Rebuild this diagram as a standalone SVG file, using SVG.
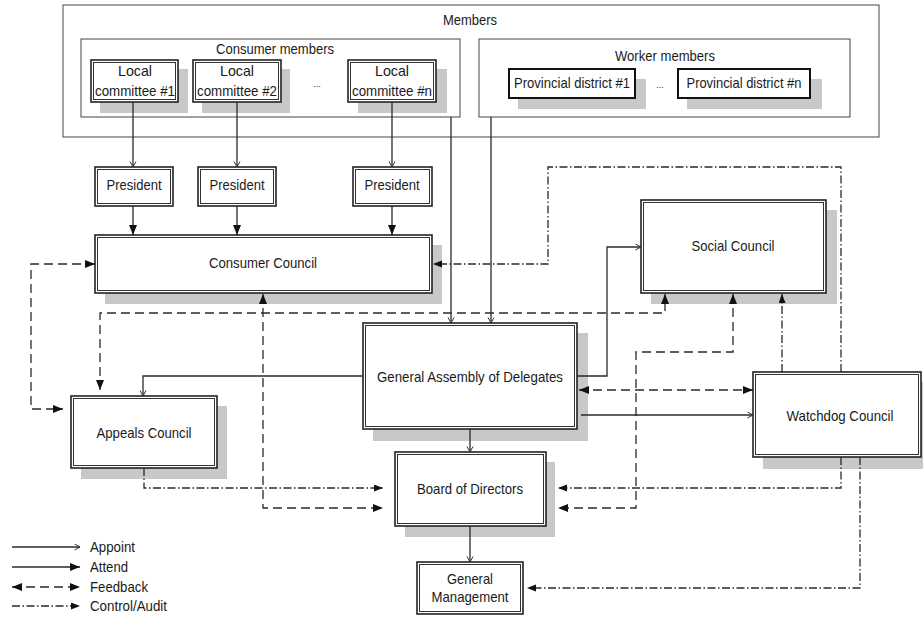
<svg xmlns="http://www.w3.org/2000/svg" width="923" height="617" viewBox="0 0 923 617">
<style>
text{font-family:"Liberation Sans",Arial,sans-serif;font-size:15px;fill:#1a1a1a}
.c{text-anchor:middle}
.sh{fill:#c8c8c8}
.grp{fill:#fff;stroke:#444;stroke-width:1}
.o{fill:#fff;stroke:#222;stroke-width:1.6}
.i{fill:none;stroke:#333;stroke-width:1}
.pd{fill:#fff;stroke:#111;stroke-width:2}
.ln{fill:none;stroke:#2a2a2a;stroke-width:1.3}
.ap{marker-end:url(#open)}
.at{marker-end:url(#fill)}
.fb{stroke-dasharray:9,5;marker-start:url(#fill);marker-end:url(#fill)}
.ca{stroke-dasharray:8,2.5,1.5,2.5;marker-end:url(#fillS)}
</style>
<defs>
<marker id="open" markerUnits="userSpaceOnUse" markerWidth="8" markerHeight="8" refX="6" refY="3.5" orient="auto-start-reverse"><path d="M0.5,0.5 L6,3.5 L0.5,6.5" fill="none" stroke="#333" stroke-width="1"/></marker>
<marker id="fill" markerUnits="userSpaceOnUse" markerWidth="11" markerHeight="9" refX="10" refY="4" orient="auto-start-reverse"><path d="M0,0 L10,4 L0,8 z" fill="#111"/></marker>
<marker id="fillS" markerUnits="userSpaceOnUse" markerWidth="10" markerHeight="8" refX="9" refY="3.5" orient="auto-start-reverse"><path d="M0,0 L9,3.5 L0,7 z" fill="#111"/></marker>
</defs>
<rect width="923" height="617" fill="#fff"/>

<g id="members">
<rect class="grp" x="63" y="5" width="816" height="132"/>
<text class="c" x="470" y="25" textLength="54" lengthAdjust="spacingAndGlyphs">Members</text>
</g>
<g id="consumer-members">
<rect class="grp" x="81" y="39" width="379" height="78"/>
<text class="c" x="275" y="54" textLength="118" lengthAdjust="spacingAndGlyphs">Consumer members</text>
<text class="c" x="317" y="87" style="font-size:9px">...</text>
</g>
<g id="worker-members">
<rect class="grp" x="479" y="39" width="371" height="78"/>
<text class="c" x="665" y="61" textLength="100" lengthAdjust="spacingAndGlyphs">Worker members</text>
<text class="c" x="660" y="88" style="font-size:9px">...</text>
</g>

<g id="local1">
<rect class="sh" x="100" y="69" width="88" height="44"/>
<rect class="o" x="91" y="60" width="87" height="42"/>
<rect class="i" x="93.5" y="62.5" width="82" height="37"/>
<text class="c" x="135" y="76" textLength="34" lengthAdjust="spacingAndGlyphs">Local</text>
<text class="c" x="135" y="96" textLength="80" lengthAdjust="spacingAndGlyphs">committee #1</text>
</g>
<g id="local2">
<rect class="sh" x="202" y="69" width="88" height="44"/>
<rect class="o" x="193" y="60" width="88" height="42"/>
<rect class="i" x="195.5" y="62.5" width="83" height="37"/>
<text class="c" x="237" y="76" textLength="34" lengthAdjust="spacingAndGlyphs">Local</text>
<text class="c" x="237" y="96" textLength="80" lengthAdjust="spacingAndGlyphs">committee #2</text>
</g>
<g id="localn">
<rect class="sh" x="358" y="69" width="89" height="44"/>
<rect class="o" x="348" y="60" width="88" height="42"/>
<rect class="i" x="350.5" y="62.5" width="83" height="37"/>
<text class="c" x="392" y="76" textLength="34" lengthAdjust="spacingAndGlyphs">Local</text>
<text class="c" x="392" y="96" textLength="80" lengthAdjust="spacingAndGlyphs">committee #n</text>
</g>
<g id="prov1">
<rect class="sh" x="518" y="79" width="128" height="30"/>
<rect class="pd" x="509" y="69" width="126" height="29"/>
<text class="c" x="572" y="88" textLength="116" lengthAdjust="spacingAndGlyphs">Provincial district #1</text>
</g>
<g id="provn">
<rect class="sh" x="687" y="79" width="135" height="30"/>
<rect class="pd" x="678" y="69" width="132" height="29"/>
<text class="c" x="744" y="88" textLength="115" lengthAdjust="spacingAndGlyphs">Provincial district #n</text>
</g>

<g id="president1">
<rect class="o" x="95" y="167" width="78" height="39"/>
<rect class="i" x="97.5" y="169.5" width="73" height="34"/>
<text class="c" x="134" y="190" textLength="55" lengthAdjust="spacingAndGlyphs">President</text>
</g>
<g id="president2">
<rect class="o" x="198" y="167" width="78" height="39"/>
<rect class="i" x="200.5" y="169.5" width="73" height="34"/>
<text class="c" x="237" y="190" textLength="55" lengthAdjust="spacingAndGlyphs">President</text>
</g>
<g id="president3">
<rect class="o" x="353" y="167" width="79" height="39"/>
<rect class="i" x="355.5" y="169.5" width="74" height="34"/>
<text class="c" x="392" y="190" textLength="55" lengthAdjust="spacingAndGlyphs">President</text>
</g>

<g id="consumer-council">
<rect class="sh" x="105" y="245" width="337" height="59"/>
<rect class="o" x="95" y="235" width="337" height="58"/>
<rect class="i" x="97.5" y="237.5" width="332" height="53"/>
<text class="c" x="263" y="268" textLength="108" lengthAdjust="spacingAndGlyphs">Consumer Council</text>
</g>
<g id="social-council">
<rect class="sh" x="651" y="210" width="186" height="94"/>
<rect class="o" x="641" y="200" width="185" height="93"/>
<rect class="i" x="643.5" y="202.5" width="180" height="88"/>
<text class="c" x="733" y="251" textLength="83" lengthAdjust="spacingAndGlyphs">Social Council</text>
</g>
<g id="general-assembly">
<rect class="sh" x="373" y="333" width="215" height="108"/>
<rect class="o" x="363" y="323" width="214" height="106"/>
<rect class="i" x="365.5" y="325.5" width="209" height="101"/>
<text class="c" x="470" y="382" textLength="186" lengthAdjust="spacingAndGlyphs">General Assembly of Delegates</text>
</g>
<g id="appeals-council">
<rect class="sh" x="81" y="406" width="146" height="73"/>
<rect class="o" x="71" y="396" width="146" height="72"/>
<rect class="i" x="73.5" y="398.5" width="141" height="67"/>
<text class="c" x="144" y="438" textLength="95" lengthAdjust="spacingAndGlyphs">Appeals Council</text>
</g>
<g id="watchdog-council">
<rect class="sh" x="763" y="382" width="170" height="87"/>
<rect class="o" x="753" y="372" width="168" height="85"/>
<rect class="i" x="755.5" y="374.5" width="163" height="80"/>
<text class="c" x="840" y="421" textLength="107" lengthAdjust="spacingAndGlyphs">Watchdog Council</text>
</g>
<g id="board-of-directors">
<rect class="sh" x="405" y="462" width="150" height="75"/>
<rect class="o" x="395" y="452" width="151" height="74"/>
<rect class="i" x="397.5" y="454.5" width="146" height="69"/>
<text class="c" x="470" y="494" textLength="106" lengthAdjust="spacingAndGlyphs">Board of Directors</text>
</g>
<g id="general-management">
<rect class="o" x="417" y="562" width="106" height="52"/>
<rect class="i" x="419.5" y="564.5" width="101" height="47"/>
<text class="c" x="470" y="584" textLength="46" lengthAdjust="spacingAndGlyphs">General</text>
<text class="c" x="470" y="602" textLength="77" lengthAdjust="spacingAndGlyphs">Management</text>
</g>

<g id="connectors">
<path class="ln ap" d="M133,102 V167"/>
<path class="ln ap" d="M237,102 V167"/>
<path class="ln ap" d="M392,102 V167"/>
<path class="ln ap" d="M451,117 V323"/>
<path class="ln ap" d="M491,117 V323"/>
<path class="ln ap" d="M363,376 H143 V396"/>
<path class="ln ap" d="M577,376 H607 V247 H641"/>
<path class="ln ap" d="M470,429 V452"/>
<path class="ln ap" d="M581,415 H753"/>
<path class="ln ap" d="M470,526 V562"/>
<path class="ln at" d="M133,206 V235"/>
<path class="ln at" d="M237,206 V235"/>
<path class="ln at" d="M392,206 V235"/>
<path class="ln fb" d="M95,264 H31 V409 H63"/>
<path class="ln fb" d="M100,390 V313 H665 V294"/>
<path class="ln fb" d="M263,294 V508 H383"/>
<path class="ln fb" d="M733,294 V352 H636 V508 H558"/>
<path class="ln fb" d="M579,390 H753"/>
<path class="ln ca" d="M841,372 V167 H548 V264 H433"/>
<path class="ln ca" d="M782,372 V294"/>
<path class="ln ca" d="M144,468 V488 H383"/>
<path class="ln ca" d="M841,457 V488 H558"/>
<path class="ln ca" d="M860,457 V588 H527"/>
</g>

<g id="legend">
<path class="ln ap" d="M12,547 H80"/>
<path class="ln at" d="M12,567 H80"/>
<path class="ln fb" d="M12,587 H80"/>
<path class="ln ca" d="M12,606 H80"/>
<text x="90" y="552" textLength="45" lengthAdjust="spacingAndGlyphs">Appoint</text>
<text x="90" y="572" textLength="38" lengthAdjust="spacingAndGlyphs">Attend</text>
<text x="90" y="592" textLength="58" lengthAdjust="spacingAndGlyphs">Feedback</text>
<text x="90" y="611" textLength="77" lengthAdjust="spacingAndGlyphs">Control/Audit</text>
</g>
</svg>
